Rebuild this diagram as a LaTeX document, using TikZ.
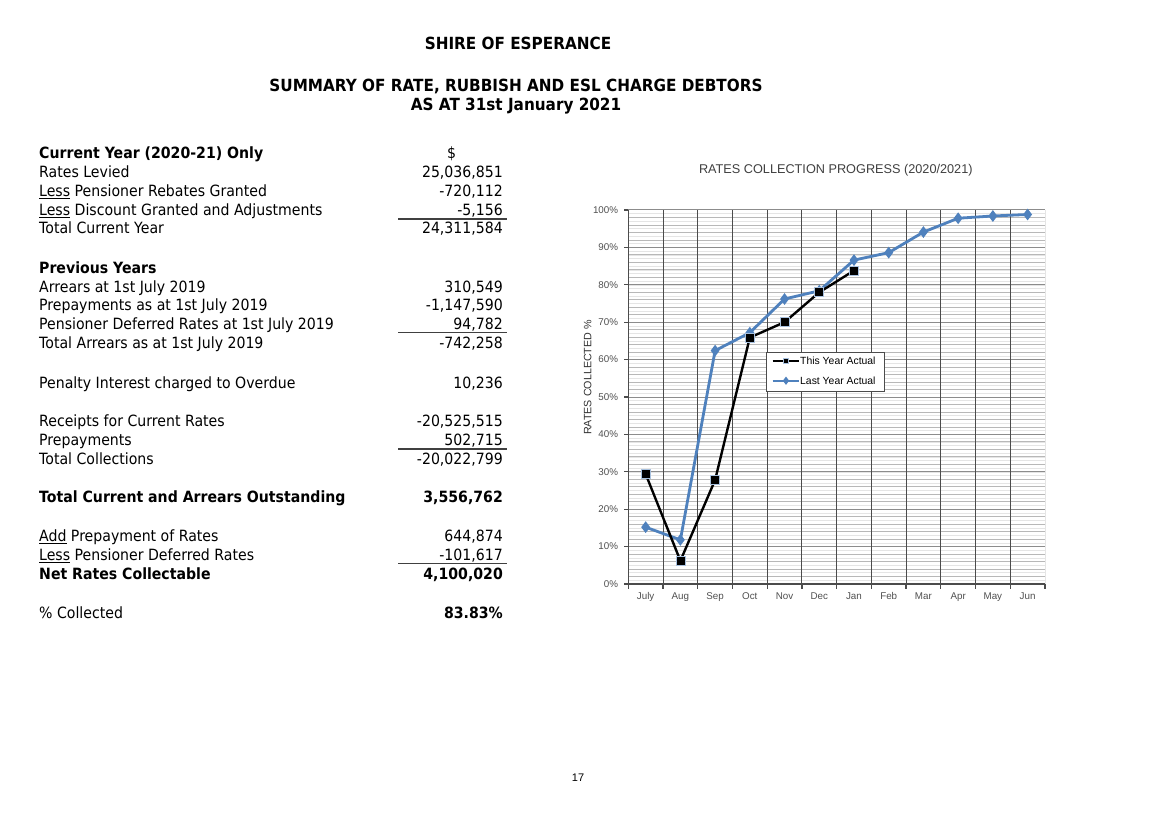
\documentclass[tikz,border=0pt]{standalone}
\usepackage{fontspec}
\setmainfont[FakeStretch=0.91]{DejaVu Sans}
\newfontfamily\chartfont{Liberation Sans}
\usetikzlibrary{calc, positioning, plotmarks}
\definecolor{lastblue}{RGB}{79,129,189}
\definecolor{tickgray}{RGB}{80,80,80}

\begin{document}
\begin{tikzpicture}[x = 1pt, y = -1pt,
		title/.style = {inner sep = 0pt, font = \fontsize{16.75}{20}\selectfont\bfseries},
		lab/.style = {anchor = base west, inner sep = 0pt, font = \fontsize{15.5}{18}\selectfont},
		val/.style = {anchor = base east, inner sep = 0pt, font = \fontsize{15.5}{18}\selectfont},
		rule/.style = {line width = 1.5pt, black!75},
		ticklab/.style = {inner sep = 0pt, text = tickgray, font = \chartfont\fontsize{9.8}{11}\selectfont},
		minorgrid/.style = {line width = 0.6pt, black!10},
		midgrid/.style = {line width = 0.8pt, black!28},
		majorgrid/.style = {line width = 1pt, black!45},
		vgrid/.style = {line width = 1pt, black!70},
		axis/.style = {line width = 1.3pt, black!70},
		thisyear/.style = {line width = 2.4pt, black, mark = square*, mark size = 4.5pt,
			mark options = {fill = black, draw = lastblue!50, line width = 0.6pt}},
		lastyear/.style = {line width = 2.8pt, lastblue, mark = diamond*, mark size = 3.6pt,
			mark options = {fill = lastblue, draw = lastblue}}]
					\def\xO{628.3};
					\def\yO{584};

					\fill [white] (0,0) rectangle (1161,821);
					\useasboundingbox (0,0) rectangle (1161,821);

					% headings
					\begin{scope}
						\node [title] (shire) at (518,43) {SHIRE OF ESPERANCE};
						\node [title] (summary) at (516,86) {SUMMARY OF RATE, RUBBISH AND ESL CHARGE DEBTORS};
						\node [title] (asat) at (516,106) {AS AT 31st January 2021};
					\end{scope}

					% table
					\begin{scope}
						\node [lab, font = \fontsize{15.5}{18}\selectfont\bfseries] (head1) at (39,158.2) {Current Year (2020-21) Only};
						\node [val, anchor = base] (dollar) at (451.7,158.2) {\$};
						\node [lab, font = \fontsize{15.5}{18}\selectfont\bfseries] (head2) at (39,273.2) {Previous Years};
						\foreach \yy/\lab/\val [count = \i] in {
							177.2/Rates Levied/{25,036,851},
							196.2/{\underline{Less} Pensioner Rebates Granted}/{-720,112},
							215.5/{\underline{Less} Discount Granted and Adjustments}/{-5,156},
							233.8/Total Current Year/{24,311,584},
							292.2/Arrears at 1st July 2019/{310,549},
							310.8/Prepayments as at 1st July 2019/{-1,147,590},
							329.5/Pensioner Deferred Rates at 1st July 2019/{94,782},
							348.8/Total Arrears as at 1st July 2019/{-742,258},
							388.2/Penalty Interest charged to Overdue/{10,236},
							426.5/Receipts for Current Rates/{-20,525,515},
							445.5/Prepayments/{502,715},
							464.5/Total Collections/{-20,022,799},
							502.8/{\bfseries Total Current and Arrears Outstanding}/{\bfseries 3,556,762},
							541.5/{\underline{Add} Prepayment of Rates}/{644,874},
							560.5/{\underline{Less} Pensioner Deferred Rates}/{-101,617},
							579.5/{\bfseries Net Rates Collectable}/{\bfseries 4,100,020},
							618.2/{\% Collected}/{\bfseries 83.83\%}}
						{
							\node [lab] (lab\i) at (39,\yy) {\lab};
							\node [val] (val\i) at (503,\yy) {\val};
						}
						\foreach \yy in {219, 332.7, 449, 563.3}
							\draw [rule] (398,\yy) -- (507,\yy);
					\end{scope}

					% chart
					\node [inner sep = 0pt, text = black!75, font = \chartfont\fontsize{12.7}{15}\selectfont] (ctitle) at (835.8,170.7) {RATES COLLECTION PROGRESS (2020/2021)};
					\node [inner sep = 0pt, rotate = 90, text = black!80, font = \chartfont\fontsize{10.7}{13}\selectfont] (ylab) at (587.7,377.5) {RATES COLLECTED \%};

					\begin{scope}[shift = {(\xO,\yO)}, x = 34.72pt, y = 3.74pt]
						\foreach \p in {1,...,99}
							\draw [minorgrid] (0,\p) -- (12,\p);
						\foreach \p in {2,4,...,98}
							\draw [midgrid] (0,\p) -- (12,\p);
						\foreach \p in {10,20,...,100}
							\draw [majorgrid] (0,\p) -- (12,\p);
						\foreach \m in {1,...,11}
							\draw [vgrid] (\m,0) -- (\m,100);
						\draw [minorgrid] (12,0) -- (12,100);
						\draw [axis] (0,100) -- (0,0) -- (12,0);
						\foreach \m in {0,...,12}
							\draw [axis] (\m,0) -- ++(0pt,-4.5pt);
						\foreach \p in {0,10,...,100}
						{
							\draw [axis] (0,\p) -- ++(-4pt,0pt);
							\node [ticklab, anchor = east] (yt\p) at ([xshift = -10pt] 0,\p) {\p\%};
						}
						\foreach \mon [count = \i from 0] in {July,Aug,Sep,Oct,Nov,Dec,Jan,Feb,Mar,Apr,May,Jun}
							\node [ticklab, anchor = base] (mon\i) at ([yshift = -15.5pt] \i+0.5,0) {\mon};

						\draw [lastyear] plot coordinates {(0.5,15.2) (1.5,11.8) (2.5,62.4) (3.5,67.2) (4.5,76.2) (5.5,78.4)
							(6.5,86.6) (7.5,88.6) (8.5,94.1) (9.5,97.8) (10.5,98.4) (11.5,98.8)};
						\draw [thisyear] plot coordinates {(0.5,29.4) (1.5,6.2) (2.5,27.8) (3.5,65.9) (4.5,70.0) (5.5,78.0) (6.5,83.8)};
					\end{scope}

					% legend
					\begin{scope}
						\draw [fill = white, line width = 0.8pt, draw = black!70] (766.7,352.3) rectangle (884,391);
						\draw [thisyear, line width = 2pt, mark size = 2.5pt, mark indices = {2}] plot coordinates {(772.7,361) (786,361) (799.3,361)};
						\draw [lastyear, line width = 2pt, mark size = 2.5pt, mark indices = {2}] plot coordinates {(772.7,380.7) (786,380.7) (799.3,380.7)};
						\node [anchor = west, inner sep = 0pt, font = \chartfont\fontsize{10.4}{12}\selectfont] (leg1) at (800,361) {This Year Actual};
						\node [anchor = west, inner sep = 0pt, font = \chartfont\fontsize{10.4}{12}\selectfont] (leg2) at (800,380.7) {Last Year Actual};
					\end{scope}

					\node [inner sep = 0pt, font = \chartfont\fontsize{11}{13}\selectfont] (page) at (578,778) {17};
				\end{tikzpicture}
\end{document}
